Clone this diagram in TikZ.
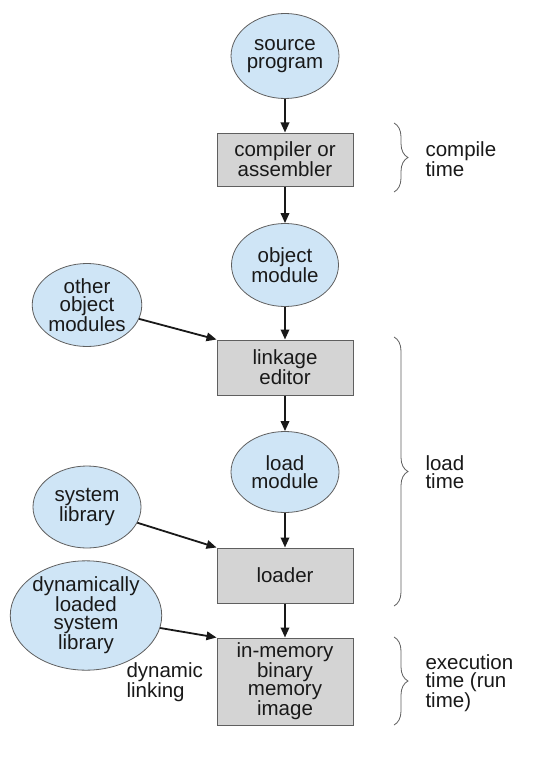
\documentclass[tikz,border=0pt]{standalone}
\usepackage{fontspec}
\setmainfont{Liberation Sans}
\usetikzlibrary{shapes.geometric,arrows.meta,decorations.pathreplacing}
\definecolor{ellfill}{RGB}{207,229,246}
\definecolor{boxfill}{RGB}{212,212,212}
\definecolor{edge}{RGB}{95,95,95}
\definecolor{ink}{RGB}{25,25,25}
\begin{document}
\begin{tikzpicture}[x=1pt,y=-1pt,
  txt/.style={font=\fontsize{20.5}{18}\selectfont, align=center, text=ink},
  blob/.style={ellipse, draw=edge, line width=0.8pt, fill=ellfill, inner sep=0pt, txt},
  stage/.style={rectangle, draw=edge, line width=1pt, fill=boxfill, minimum width=136pt, inner sep=0pt, txt},
  flow/.style={line width=1.8pt, draw=ink, -{Triangle[length=10pt,width=8.5pt]}},
  timebrace/.style={draw=edge, line width=0.8pt, decorate, decoration={brace, amplitude=14pt}},
  note/.style={txt, align=left, anchor=west}]
\useasboundingbox (0,0) rectangle (536,765);
\fill[white] (0,0) rectangle (536,765);

\node[blob, minimum width=104pt, minimum height=85pt] (src) at (285,56) {source\\program};
\node[stage, minimum height=53pt] (comp) at (285,159.5) {compiler or\\assembler};
\node[blob, minimum width=107pt, minimum height=83pt] (obj) at (285,265) {object\\module};
\node[blob, minimum width=108pt, minimum height=83pt] (other) at (87,305) {other\\object\\modules};
\node[stage, minimum height=55pt] (link) at (285,367.5) {linkage\\editor};
\node[blob, minimum width=108pt, minimum height=81pt] (lmod) at (285,472) {load\\module};
\node[blob, minimum width=108pt, minimum height=82pt] (sys) at (87,507) {system\\library};
\node[stage, minimum height=55pt] (loader) at (285,575.5) {loader};
\node[blob, minimum width=130pt, minimum height=101pt] (dyn) at (86,615.5) {dynamically\\loaded\\system\\library};
\node[stage, minimum height=87pt] (mem) at (285,681.5) {in-memory\\binary\\memory\\image};

\draw[flow] (src) -- (comp);
\draw[flow] (comp) -- (obj);
\draw[flow] (obj) -- (link);
\draw[flow] (link) -- (lmod);
\draw[flow] (lmod) -- (loader);
\draw[flow] (loader) -- (mem);
\draw[flow] (other) -- (link.north west);
\draw[flow] (sys) -- (loader.north west);
\draw[flow] (dyn) -- (mem.north west);

\coordinate (ct) at (394,123);
\coordinate (cb) at (394,192);
\coordinate (lt) at (394,337);
\coordinate (lb) at (394,606);
\coordinate (et) at (394,637);
\coordinate (eb) at (394,725);
\draw[timebrace] (ct) -- (cb);
\draw[timebrace] (lt) -- (lb);
\draw[timebrace] (et) -- (eb);

\node[note] (ctime) at (422,159) {compile\\time};
\node[note] (ltime) at (422,472) {load\\time};
\node[note] (etime) at (422,683) {execution\\time (run\\time)};
\node[note] (dlink) at (123,682) {dynamic\\linking};
\end{tikzpicture}
\end{document}
